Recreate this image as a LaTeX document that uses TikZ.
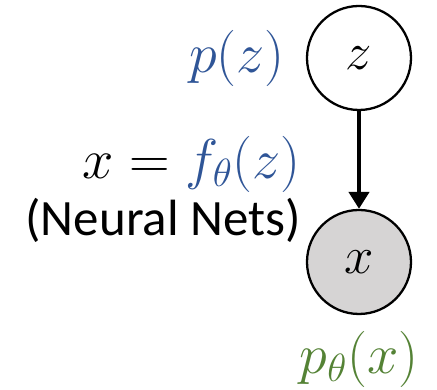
\RequirePackage{fix-cm}
\documentclass[tikz,border=0pt]{standalone}
\usepackage{fontspec}
\setmainfont{Carlito}
\usepackage{tikz}
\usetikzlibrary{arrows.meta,positioning}
\definecolor{pzblue}{RGB}{47,85,151}
\definecolor{pxgreen}{RGB}{84,130,53}
\definecolor{obsgray}{RGB}{214,212,212}

\begin{document}
\begin{tikzpicture}[
   >={Triangle[length=3.4mm,width=4mm]},
   latent/.style={circle,draw,line width=1.3pt,fill=white,minimum size=20.8mm,inner sep=0pt,font=\fontsize{30}{34}\selectfont},
   observed/.style={latent,fill=obsgray},
   gen/.style={->,line width=2.8pt},
   every node/.style={font=\fontsize{32}{36}\selectfont}]
  \useasboundingbox (0,0) rectangle (8.74,7.8);
  % latent and observed variables
  \node[latent] (z) at (7.18,6.64) {$z$};
  \node[observed] (x) at (7.18,2.56) {$x$};
  % generative edge
  \draw[gen] (z) -- (x);
  % distributions
  \node[left=3mm of z,text=pzblue] (pz) {$p(z)$};
  \node[below=2mm of x,text=pxgreen] (px) {$p_\theta(x)$};
  % mapping labels
  \node[anchor=east] (fz) at (6.14,4.52) {$x = \textcolor{pzblue}{f_\theta(z)}$};
  \node[anchor=east,font=\fontsize{29}{33}\selectfont] (nn) at (6.14,3.4) {(Neural Nets)};
\end{tikzpicture}
\end{document}
